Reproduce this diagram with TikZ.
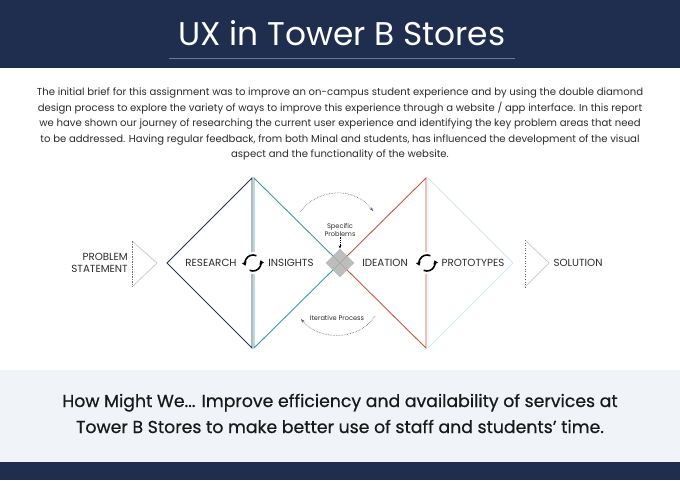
\documentclass[tikz,border=0pt]{standalone}
\usepackage{fontspec}
\setmainfont{Poppins}
\newfontfamily\medfont[FakeBold=0.6]{Poppins}
\usetikzlibrary{arrows.meta,shapes.geometric}
\definecolor{navybg}{HTML}{1F2E4F}
\definecolor{ulcol}{HTML}{6B7896}
\definecolor{lightbg}{HTML}{F0F4F8}
\definecolor{navyline}{HTML}{2A3556}
\definecolor{tealline}{HTML}{3A9A9A}
\definecolor{orangeline}{HTML}{C9553C}
\definecolor{blueline}{HTML}{D3E8F3}
\definecolor{txt}{HTML}{2B2B2B}
\tikzset{
  lbl/.style={font=\fontsize{10.3}{12}\selectfont, text=txt, inner sep=0pt},
  edgeline/.style={line width=0.9pt},
  dotarc/.style={densely dotted, line width=0.6pt, draw=black!65, -{Stealth[length=4pt,width=3pt]}},
  cyc/.style={line width=1.6pt, -{Triangle[length=3.6pt,width=4.8pt]}},
}
\begin{document}
\begin{tikzpicture}[x=1pt,y=-1pt]
\useasboundingbox (0,0) rectangle (680,480);
% header
\fill[navybg] (0,0) rectangle (680,68);
\node[anchor=base, white, font=\fontsize{32.8}{34}\selectfont, inner sep=0] (title) at (342,45) {UX in Tower B Stores};
\coordinate (ul1) at (169,58);
\coordinate (ul2) at (515,58);
\draw[ulcol, line width=1pt] (ul1) -- (ul2);
% brief
\node[anchor=north, align=center, inner sep=0, text=txt, font=\fontsize{10.1}{15.4}\selectfont] (brief) at (340,88)
{The initial brief for this assignment was to improve an on-campus student experience and by using the double diamond\\
design process to explore the variety of ways to improve this experience through a website / app interface. In this report\\
we have shown our journey of researching the current user experience and identifying the key problem areas that need\\
to be addressed. Having regular feedback, from both Minal and students, has influenced the development of the visual\\
aspect and the functionality of the website.};
% diamonds
\coordinate (L) at (167,263);
\coordinate (T1) at (252,178);
\coordinate (B1) at (252,348);
\coordinate (T1b) at (254,178);
\coordinate (B1b) at (254,348);
\coordinate (C) at (340,263);
\coordinate (T2) at (426,178);
\coordinate (B2) at (426,348);
\coordinate (T2b) at (428,178);
\coordinate (B2b) at (428,348);
\coordinate (R) at (513,263);
\draw[edgeline, blueline] (T2b) -- (R) -- (B2b) -- cycle;
\draw[edgeline, navyline] (T1) -- (L) -- (B1) -- cycle;
\draw[edgeline, tealline] (T1b) -- (C) -- (B1b) -- cycle;
\draw[edgeline, orangeline] (C) -- (T2) -- (B2) -- cycle;
% gray diamond
\node[diamond, fill=black!30, fill opacity=0.85, minimum width=29pt, minimum height=29pt, inner sep=0] (spd) at (C) {};
\node[font=\fontsize{6.6}{8}\selectfont, align=center, text=txt, inner sep=0] (sp) at (340,230) {Specific\\Problems};
\draw[densely dotted, line width=0.7pt, -{Stealth[length=3pt,width=3pt]}] (sp.south) -- (spd.north);
% problem statement triangle
\coordinate (p1) at (132,241);
\coordinate (p2) at (157,263);
\coordinate (p3) at (132,287);
\draw[black!25, line width=0.6pt] (p1) -- (p2) -- (p3);
\draw[black!55, line width=0.6pt, dash pattern=on 1.5pt off 1pt] (p1) -- (p3);
% solution triangle
\coordinate (s1) at (525,240);
\coordinate (s2) at (549,263);
\coordinate (s3) at (525,287);
\draw[black!25, line width=0.6pt] (s1) -- (s2) -- (s3);
\draw[black!60, line width=0.6pt, dotted] (s1) -- (s3);
% labels
\node[lbl, anchor=east, align=right] (ps) at (128,263) {PROBLEM\\STATEMENT};
\node[lbl] (research) at (211,263) {RESEARCH};
\node[lbl] (insights) at (291,263) {INSIGHTS};
\node[lbl] (ideation) at (385,263) {IDEATION};
\node[lbl] (proto) at (473,263) {PROTOTYPES};
\node[lbl] (sol) at (578,263) {SOLUTION};
% cycle icons
\foreach \n/\cx in {c1/253, c2/427}{
  \node[circle, fill=white, minimum size=22pt, inner sep=0] (\n) at (\cx,263) {};
  \draw[cyc] ([shift={(-65:8)}]\n.center) arc[start angle=-65, end angle=-200, radius=8];
  \draw[cyc] ([shift={(-245:8)}]\n.center) arc[start angle=-245, end angle=-380, radius=8];
}
% iterative arcs
\coordinate (a1s) at (300,212);
\coordinate (a1e) at (373,211);
\draw[dotarc] (a1s) .. controls (318,188) and (354,186) .. (a1e);
\coordinate (a2s) at (375,316);
\coordinate (a2e) at (301,319);
\draw[dotarc] (a2s) .. controls (360,340) and (320,342) .. (a2e);
\node[font=\fontsize{6.6}{8}\selectfont, text=txt, inner sep=0] (iter) at (337,318) {Iterative Process};
% bottom
\fill[lightbg] (0,370) rectangle (680,462);
\fill[navybg] (0,462) rectangle (680,480);
\node[anchor=base, text=black!90, font=\medfont\fontsize{17.3}{20}\selectfont, inner sep=0] (hmw1) at (340,407) {How Might We... Improve efficiency and availability of services at};
\node[anchor=base, text=black!90, font=\medfont\fontsize{17.3}{20}\selectfont, inner sep=0] (hmw2) at (340,433) {Tower B Stores to make better use of staff and students’ time.};
\end{tikzpicture}
\end{document}
